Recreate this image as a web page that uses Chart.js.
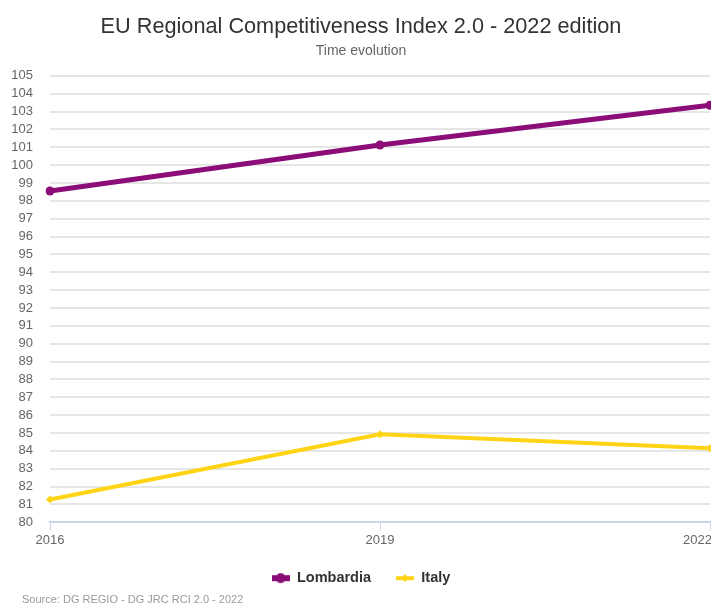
<!DOCTYPE html>
<html>
<head>
<meta charset="utf-8">
<title>EU Regional Competitiveness Index 2.0</title>
<script src="https://cdn.jsdelivr.net/npm/chart.js@4/dist/chart.umd.min.js"></script>
<style>
body { margin: 0; overflow: hidden; background: #fff; }
.wrap { width: 722px; height: 603px; position: relative; }
</style>
</head>
<body>
<div class="wrap"><canvas id="rci"></canvas></div>
<script>
// data
var years = ['2016', '2019', '2022'];
var lombardia = [98.55, 101.13, 103.35];
var italy = [81.28, 84.93, 84.15];
var yMin = 80, yMax = 105, yStep = 1;
var sourceText = 'Source: DG REGIO - DG JRC RCI 2.0 - 2022';

var purple = '#8c0d78';
var yellow = '#ffd414';
var fontFam = '"Liberation Sans", Arial, Helvetica, sans-serif';

// little legend symbols: a line with its marker on it
function legendIcon(color, shape, lw) {
    var c = document.createElement('canvas');
    c.width = 18; c.height = 12;
    var g = c.getContext('2d');
    g.strokeStyle = color; g.fillStyle = color; g.lineWidth = lw;
    g.beginPath(); g.moveTo(0, 6); g.lineTo(18, 6); g.stroke();
    g.beginPath();
    if (shape == 'circle') {
        g.arc(9, 6, 5, 0, Math.PI * 2);
    } else {
        g.moveTo(9, 2); g.lineTo(13, 6); g.lineTo(9, 10); g.lineTo(5, 6); g.closePath();
    }
    g.fill();
    return c;
}
var icons = [legendIcon(purple, 'circle', 6), legendIcon(yellow, 'diamond', 4)];

// source line + the last x label pushed back inside the chart
var extrasPlugin = {
    id: 'extras',
    afterDraw: function(chart) {
        var ctx = chart.ctx;
        var xs = chart.scales.x;
        var last = years.length - 1;
        ctx.save();
        ctx.font = '13px ' + fontFam;
        ctx.fillStyle = '#666666';
        ctx.textBaseline = 'top';
        var w = ctx.measureText(years[last]).width;
        var px = xs.getPixelForTick(last);
        var left = Math.min(px - w / 2, chart.width - 10 - w);
        ctx.textAlign = 'left';
        ctx.fillText(years[last], left, xs.top + 12);

        ctx.font = '11px ' + fontFam;
        ctx.fillStyle = '#999999';
        ctx.textBaseline = 'middle';
        ctx.fillText(sourceText, 22, 600);
        ctx.restore();
    }
};

var ctx = document.getElementById('rci').getContext('2d');
new Chart(ctx, {
    type: 'line',
    data: {
        labels: years,
        datasets: [{
            label: 'Lombardia',
            data: lombardia,
            borderColor: purple,
            backgroundColor: purple,
            borderWidth: 5,
            pointStyle: 'circle',
            pointRadius: 4.5,
            pointBorderWidth: 0,
            tension: 0
        }, {
            label: 'Italy',
            data: italy,
            borderColor: yellow,
            backgroundColor: yellow,
            borderWidth: 4,
            pointStyle: 'rectRot',
            pointRadius: 4,
            pointBorderWidth: 0,
            tension: 0
        }]
    },
    options: {
        responsive: true,
        maintainAspectRatio: false,
        animation: false,
        events: [],
        layout: { padding: { left: 0, right: 0, top: 0, bottom: 7.6 } },
        scales: {
            x: {
                type: 'category',
                offset: false,
                grid: { drawOnChartArea: false, drawTicks: true, tickLength: 8, color: '#ccd6eb', lineWidth: 1 },
                border: { display: true, color: '#ccd6eb', width: 2 },
                ticks: {
                    color: '#666666', font: { family: fontFam, size: 13 }, padding: 2, maxRotation: 0,
                    // last one is drawn by the plugin
                    callback: function(v, i) { return i == years.length - 1 ? '' : years[i]; }
                },
                afterFit: function(scale) { scale.paddingRight = 12; scale.height -= 4; }
            },
            y: {
                min: yMin,
                max: yMax,
                grid: { color: '#e6e6e6', lineWidth: 2, drawTicks: false },
                border: { display: false },
                ticks: { stepSize: yStep, autoSkip: false, color: '#666666', font: { family: fontFam, size: 13 }, padding: 17 },
                afterFit: function(scale) { scale.width = 50; }
            }
        },
        plugins: {
            title: {
                display: true,
                text: 'EU Regional Competitiveness Index 2.0 - 2022 edition',
                color: '#333333',
                font: { family: fontFam, size: 21.7, weight: 'normal' },
                padding: { top: 14, bottom: 3 }
            },
            subtitle: {
                display: true,
                text: 'Time evolution',
                color: '#666666',
                font: { family: fontFam, size: 14, weight: 'normal' },
                padding: { top: 0, bottom: 16 }
            },
            legend: {
                position: 'bottom',
                labels: {
                    usePointStyle: true,
                    pointStyleWidth: 18,
                    padding: 25,
                    color: '#333333',
                    font: { family: fontFam, size: 14.5, weight: 'bold' },
                    generateLabels: function(chart) {
                        var items = Chart.defaults.plugins.legend.labels.generateLabels(chart);
                        items.forEach(function(it, i) { it.pointStyle = icons[i]; });
                        return items;
                    }
                }
            },
            tooltip: { enabled: false }
        }
    },
    plugins: [extrasPlugin]
});
</script>
</body>
</html>
